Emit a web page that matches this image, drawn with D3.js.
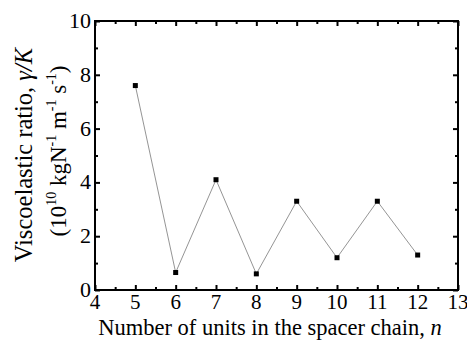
<!DOCTYPE html>
<html>
<head>
<meta charset="utf-8">
<script src="https://cdn.jsdelivr.net/npm/d3@7"></script>
<style>
	body { margin: 0; background: #fff; }
</style>
</head>
<body>
<div id="chart"></div>
<script>
// spacer chain length n vs viscoelastic ratio
const units = [5, 6, 7, 8, 9, 10, 11, 12];
const ratio = [7.6, 0.65, 4.1, 0.6, 3.3, 1.2, 3.3, 1.3];
const xTicks = [4, 5, 6, 7, 8, 9, 10, 11, 12, 13];
const yTicks = [0, 2, 4, 6, 8, 10];

const width = 467, height = 346;
const margin = { top: 21, right: 9, bottom: 56, left: 95 };
const w = width - margin.left - margin.right;
const h = height - margin.top - margin.bottom;
const serif = "'Liberation Serif', 'Times New Roman', serif";

const x = d3.scaleLinear().domain([4, 13]).range([0, w]);
const y = d3.scaleLinear().domain([0, 10]).range([h, 0]);

const svg = d3.select('#chart').append('svg')
	.attr('width', width).attr('height', height)
	.attr('font-family', serif);
const g = svg.append('g')
	.attr('transform', `translate(${margin.left},${margin.top})`);

// minor ticks at half steps, major at labels; all pointing inward, mirrored
const xMinor = d3.range(4.5, 13, 1);
const yMinor = d3.range(1, 10, 2);

function ticks(axis, vals, len, pos) {
	g.append('g').call(axis.tickValues(vals).tickSize(-len).tickFormat(''))
		.attr('transform', pos)
		.call(s => s.select('.domain').remove())
		.selectAll('line').attr('stroke', '#000').attr('stroke-width', 2);
}
ticks(d3.axisBottom(x), xTicks, 5, `translate(0,${h})`);
ticks(d3.axisBottom(x), xMinor, 3, `translate(0,${h})`);
ticks(d3.axisTop(x), xTicks, 5, 'translate(0,0)');
ticks(d3.axisTop(x), xMinor, 3, 'translate(0,0)');
ticks(d3.axisLeft(y), yTicks, 5, 'translate(0,0)');
ticks(d3.axisLeft(y), yMinor, 3, 'translate(0,0)');
ticks(d3.axisRight(y), yTicks, 5, `translate(${w},0)`);
ticks(d3.axisRight(y), yMinor, 3, `translate(${w},0)`);

g.append('rect')
	.attr('width', w).attr('height', h)
	.attr('fill', 'none').attr('stroke', '#000').attr('stroke-width', 2);

// tick labels
g.selectAll('.xl').data(xTicks).join('text')
	.attr('font-family', serif)
	.attr('x', d => x(d)).attr('y', h + 19)
	.attr('text-anchor', 'middle').attr('font-size', 21)
	.text(d => d);
g.selectAll('.yl').data(yTicks).join('text')
	.attr('font-family', serif)
	.attr('x', -4).attr('y', d => y(d) + 7)
	.attr('text-anchor', 'end').attr('font-size', 22)
	.text(d => d);

// series
const pts = units.map((u, i) => [u, ratio[i]]);
g.append('path')
	.attr('d', d3.line().x(d => x(d[0])).y(d => y(d[1]))(pts))
	.attr('fill', 'none').attr('stroke', '#888').attr('stroke-width', 0.9);
g.selectAll('.pt').data(pts).join('rect')
	.attr('x', d => x(d[0]) - 2.5).attr('y', d => y(d[1]) - 2.5)
	.attr('width', 5).attr('height', 5).attr('fill', '#000');

// axis titles
const xt = svg.append('text')
	.attr('x', 270).attr('y', 335)
	.attr('text-anchor', 'middle').attr('font-size', 22.5);
xt.append('tspan').text('Number of units in the spacer chain, ');
xt.append('tspan').attr('font-style', 'italic').text('n');

const yt = svg.append('g').attr('transform', 'rotate(-90)');
const t1 = yt.append('text').attr('x', -155).attr('y', 32)
	.attr('text-anchor', 'middle').attr('font-size', 24.5);
t1.append('tspan').text('Viscoelastic ratio, ');
t1.append('tspan').attr('font-style', 'italic').text('γ/K');

const t2 = yt.append('text').attr('x', -151).attr('y', 66)
	.attr('text-anchor', 'middle').attr('font-size', 23);
const sup = (s) => t2.append('tspan').attr('font-size', 14).attr('dy', -10).text(s);
const base = (s) => t2.append('tspan').attr('font-size', 23).attr('dy', 10).text(s);
t2.append('tspan').text('(10');
sup('10');
base(' kgN');
sup('-1');
base(' m');
sup('-1');
base(' s');
sup('-1');
base(')');
</script>
</body>
</html>
